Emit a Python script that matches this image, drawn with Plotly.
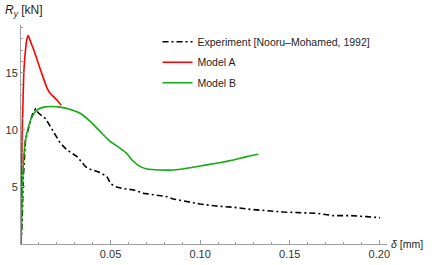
import plotly.graph_objects as go

# Experiment [Nooru-Mohamed, 1992]
exp_x = [0, 0.00065, 0.0012, 0.0025, 0.0049, 0.0066, 0.0081, 0.0099, 0.0137, 0.0164, 0.0192, 0.022,
         0.0257, 0.0313, 0.036, 0.0387, 0.0443, 0.048, 0.050, 0.0527, 0.0573, 0.0629, 0.0685, 0.0759,
         0.0815, 0.085, 0.0926, 0.100, 0.109, 0.1186, 0.128, 0.137, 0.1465, 0.155, 0.165, 0.1744,
         0.1837, 0.193, 0.2004]
exp_y = [0, 2.1, 5.6, 9.1, 10.6, 11.46, 11.84, 11.46, 11.0, 10.3, 9.56, 8.83,
         8.25, 7.66, 6.78, 6.55, 6.26, 5.9, 5.3, 5.03, 4.85, 4.74, 4.44, 4.3,
         4.15, 3.95, 3.71, 3.5, 3.33, 3.22, 3.04, 2.9, 2.8, 2.75, 2.69, 2.49,
         2.49, 2.4, 2.31]

# Model A
a_x = [0, 0.0003, 0.0006, 0.001, 0.0016, 0.0025, 0.0032, 0.004, 0.0053, 0.00715, 0.0109, 0.0146,
       0.0164, 0.0183, 0.0202, 0.0224]
a_y = [0, 5.0, 9.5, 11.75, 15.1, 17.0, 17.9, 18.27, 17.75, 17.0, 15.26, 13.65,
       13.2, 12.9, 12.6, 12.16]

# Model B
b_x = [0, 0.0008, 0.0016, 0.0025, 0.0044, 0.0062, 0.009, 0.0127, 0.0164, 0.022, 0.0276, 0.033,
       0.0388, 0.0443, 0.0499, 0.0554, 0.059, 0.062, 0.0666, 0.0703, 0.0777, 0.0852, 0.0926,
       0.100, 0.109, 0.1186, 0.126, 0.1325]
b_y = [0, 5.0, 7.7, 9.1, 10.4, 11.17, 11.75, 12.0, 12.05, 12.0, 11.8, 11.46,
       10.73, 9.85, 8.98, 8.39, 7.95, 7.37, 6.78, 6.58, 6.49, 6.49, 6.64,
       6.84, 7.08, 7.37, 7.66, 7.87]

x_ticks = [0.05, 0.10, 0.15, 0.20]
x_tick_text = ["0.05", "0.10", "0.15", "0.20"]
y_ticks = [5, 10, 15]
y_tick_text = ["5", "10", "15"]

fig = go.Figure()
fig.add_trace(go.Scatter(x=exp_x, y=exp_y, mode="lines", legendgroup="g1",
                         name="Experiment [Nooru\u2013Mohamed, 1992]",
                         line=dict(color="black", width=1.6, dash="6px,3px,2px,3px")))
fig.add_trace(go.Scatter(x=a_x, y=a_y, mode="lines", name="Model A", legendgroup="g2",
                         line=dict(color="rgb(255,0,0)", width=1.6, shape="spline", smoothing=0.6)))
fig.add_trace(go.Scatter(x=b_x, y=b_y, mode="lines", name="Model B", legendgroup="g3",
                         line=dict(color="rgb(20,170,20)", width=1.6, shape="spline", smoothing=0.6)))

axis_col = "rgb(160,160,160)"
fig.update_layout(
    width=436, height=265,
    margin=dict(l=20.5, r=49, t=25, b=21, autoexpand=False),
    paper_bgcolor="white", plot_bgcolor="white",
    font=dict(family="Liberation Sans", size=11, color="rgb(50,50,50)"),
    showlegend=True,
    legend=dict(x=0.373, y=0.99, xanchor="left", yanchor="top",
                bgcolor="rgba(0,0,0,0)", font=dict(size=10.5, color="rgb(30,30,30)"),
                tracegroupgap=1.5, itemwidth=30),
    xaxis=dict(range=[0, 0.2043], showgrid=False, zeroline=False, automargin=False,
               showline=True, linecolor=axis_col, linewidth=1,
               ticks="inside", ticklen=4, tickcolor=axis_col,
               tickvals=x_ticks, ticktext=x_tick_text,
               minor=dict(dtick=0.01, ticks="inside", ticklen=2, tickcolor=axis_col, showgrid=False)),
    yaxis=dict(range=[0, 19.2], showgrid=False, zeroline=False, automargin=False,
               showline=True, linecolor=axis_col, linewidth=1,
               ticks="inside", ticklen=4, tickcolor=axis_col,
               tickvals=y_ticks, ticktext=y_tick_text,
               minor=dict(dtick=1, ticks="inside", ticklen=2, tickcolor=axis_col, showgrid=False)),
)
fig.add_annotation(text="<i>R</i><sub><i>y</i></sub> [kN]", xref="paper", yref="paper",
                   x=-0.048, y=1.0, yshift=14, xanchor="left", yanchor="middle",
                   showarrow=False, font=dict(size=12, color="rgb(30,30,30)"))
fig.add_annotation(text="<i>\u03b4</i> [mm]", xref="paper", yref="paper",
                   x=1.0, y=0, xshift=2, xanchor="left", yanchor="middle",
                   showarrow=False, font=dict(size=10.5, color="rgb(30,30,30)"))

fig.write_html("out.html", config={"displayModeBar": False},
               post_script="document.body.style.margin='0';")
